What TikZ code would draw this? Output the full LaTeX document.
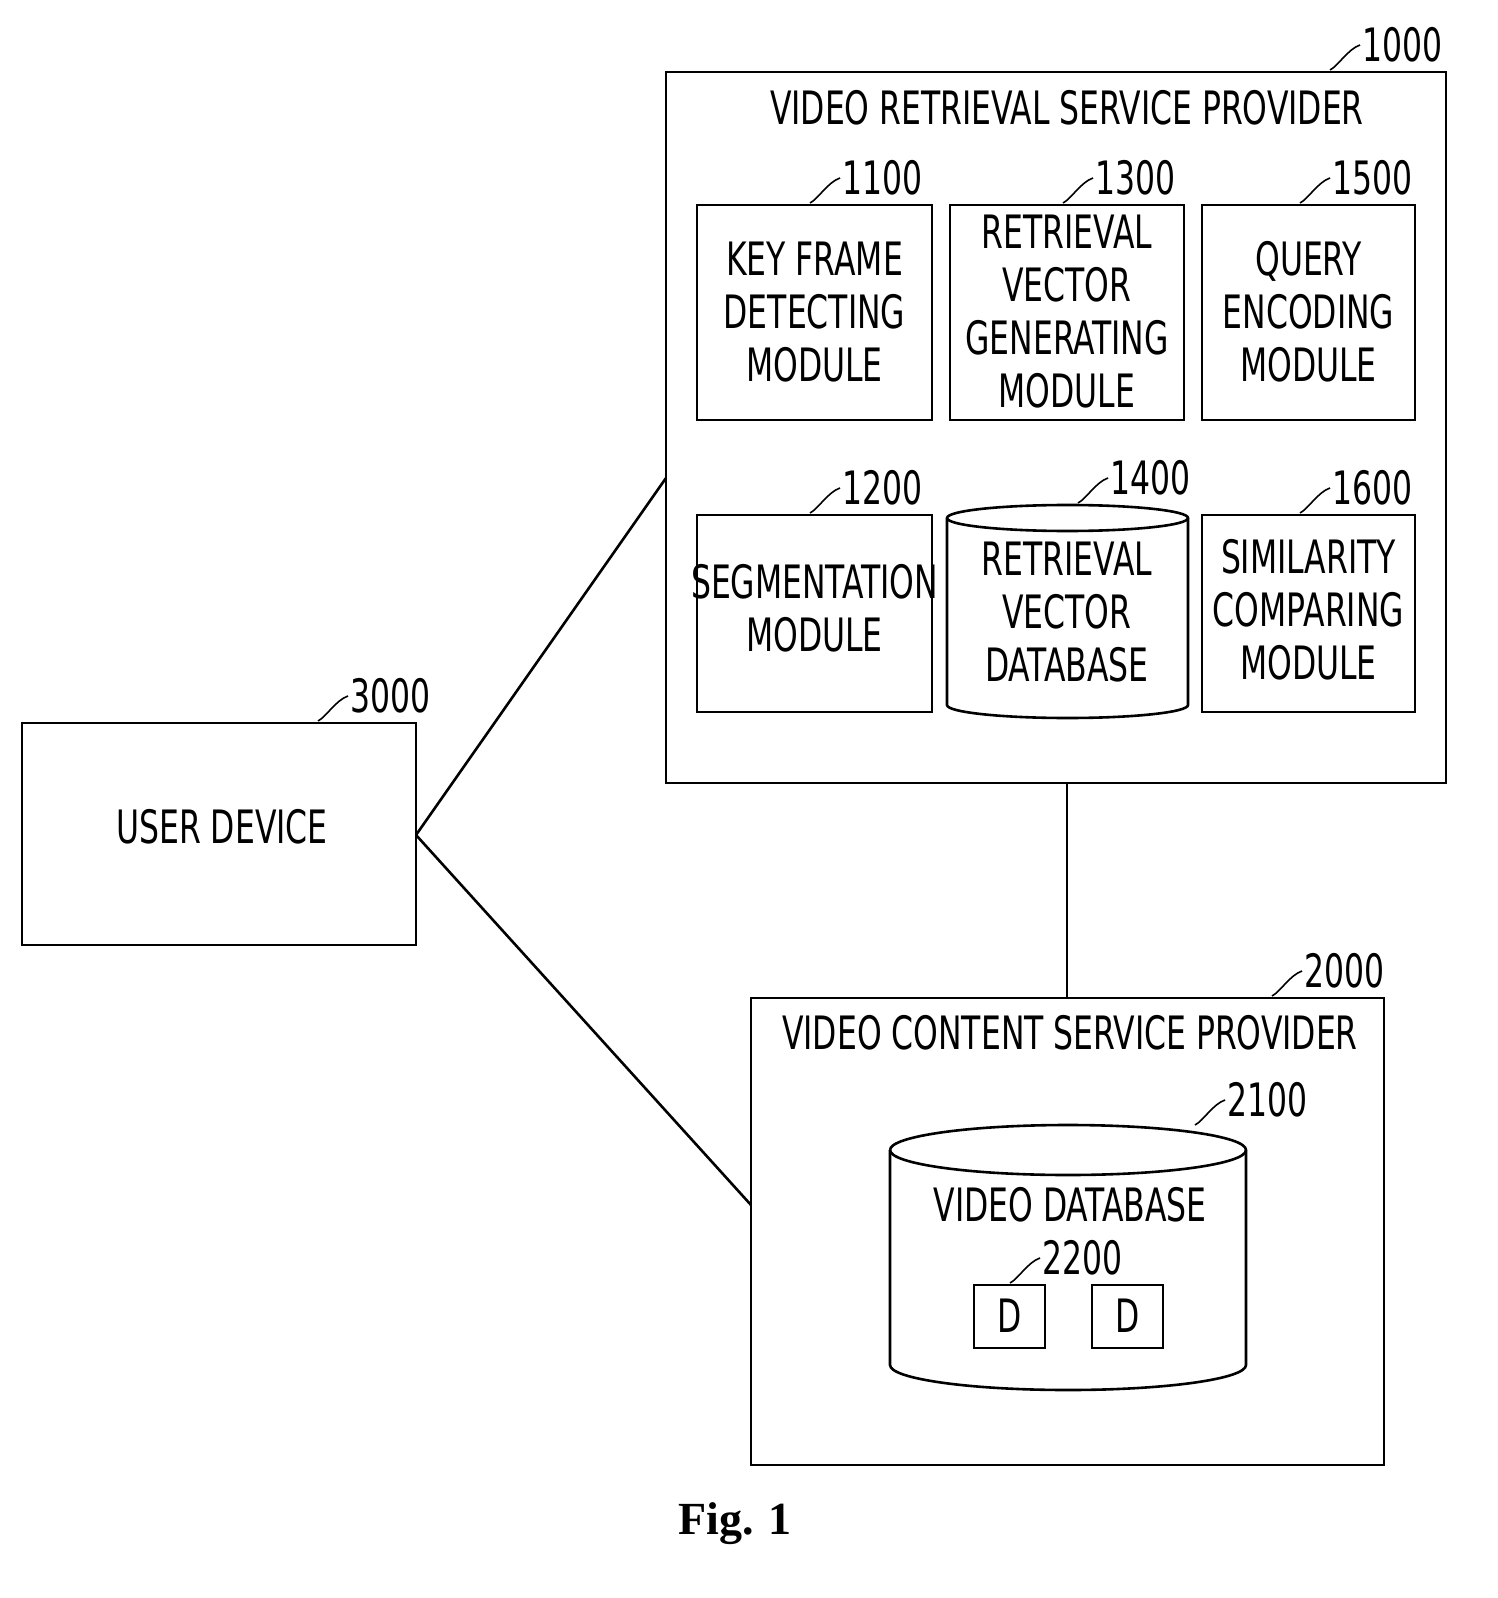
\documentclass[tikz,border=0pt]{standalone}
\usepackage{fontspec}
\setmainfont{DejaVu Sans Condensed}[FakeStretch=0.76]
\newfontfamily\figfont{Liberation Serif}
\usetikzlibrary{positioning}

\tikzset{
  box/.style={draw, line width=1.3pt},
  txt/.style={align=center, font=\fontsize{23}{26.5}\selectfont},
  num/.style={anchor=west, inner sep=1pt, font=\fontsize{23}{26}\selectfont},
  tick/.style={line width=0.8pt}
}
% reference number with a small curved leader
\newcommand{\refnum}[2]{%
  \draw[tick] (#1) .. controls +(8,-4) and +(-12,4) .. +(30,-25) node[num] {#2};}

\begin{document}
\begin{tikzpicture}[x=0.5pt, y=-0.5pt]
  \useasboundingbox (0,0) rectangle (1497,1598);

  % Define nodes
  \draw[box] (666,72) rectangle (1446,783);
  \node[txt] (vrsp) at (1067,108) {VIDEO RETRIEVAL SERVICE PROVIDER};
  \coordinate (vrspW) at (666,478);
  \coordinate (vrspS) at (1067,783);

  \draw[box] (697,205) rectangle (932,420);
  \node[txt] (keyframe) at (814.5,312) {KEY FRAME\\DETECTING\\MODULE};
  \draw[box] (950,205) rectangle (1184,420);
  \node[txt] (rvgen) at (1067,312) {RETRIEVAL\\VECTOR\\GENERATING\\MODULE};
  \draw[box] (1202,205) rectangle (1415,420);
  \node[txt] (query) at (1308.5,312) {QUERY\\ENCODING\\MODULE};
  \draw[box] (697,515) rectangle (932,712);
  \node[txt] (segm) at (814.5,608) {SEGMENTATION\\MODULE};
  \draw[box] (1202,515) rectangle (1415,712);
  \node[txt] (simil) at (1308.5,610) {SIMILARITY\\COMPARING\\MODULE};

  % retrieval vector database
  \draw[box] (947,518) -- (947,705) arc[start angle=180, end angle=0, x radius=120.5, y radius=13]
    -- (1188,518) arc[start angle=0, end angle=-180, x radius=120.5, y radius=13];
  \draw[box] (947,518) arc[start angle=180, end angle=0, x radius=120.5, y radius=13];
  \node[txt] (rvdb) at (1067,612) {RETRIEVAL\\VECTOR\\DATABASE};

  \draw[box] (22,723) rectangle (416,945);
  \node[txt] (user) at (222,827) {USER DEVICE};
  \coordinate (userE) at (416,835);

  \draw[box] (751,998) rectangle (1384,1465);
  \node[txt] (vcsp) at (1070,1033) {VIDEO CONTENT SERVICE PROVIDER};
  \coordinate (vcspW) at (751,1205);
  \coordinate (vcspN) at (1067,998);

  % video database
  \draw[box] (890,1150) -- (890,1365) arc[start angle=180, end angle=0, x radius=178, y radius=25]
    -- (1246,1150) arc[start angle=0, end angle=-180, x radius=178, y radius=25];
  \draw[box] (890,1150) arc[start angle=180, end angle=0, x radius=178, y radius=25];
  \node[txt] (vdb) at (1070,1205) {VIDEO DATABASE};
  \draw[box] (974,1285) rectangle (1045,1348);
  \node[txt] (d1) at (1009.5,1316) {D};
  \draw[box] (1092,1285) rectangle (1163,1348);
  \node[txt] (d2) at (1127.5,1316) {D};

  \node[font=\figfont\bfseries\fontsize{23}{26}\selectfont] (fig) at (735,1524) {Fig. 1};

  % Connect the nodes
  \draw[box] (userE) -- (vrspW);
  \draw[box] (userE) -- (vcspW);
  \draw[box] (vrspS) -- (vcspN);

  % Reference numbers
  \refnum{1330,70}{1000}
  \refnum{810,203}{1100}
  \refnum{1063,203}{1300}
  \refnum{1300,203}{1500}
  \refnum{810,513}{1200}
  \refnum{1078,503}{1400}
  \refnum{1300,513}{1600}
  \refnum{318,721}{3000}
  \refnum{1272,996}{2000}
  \refnum{1195,1125}{2100}
  \refnum{1010,1283}{2200}
\end{tikzpicture}
\end{document}
